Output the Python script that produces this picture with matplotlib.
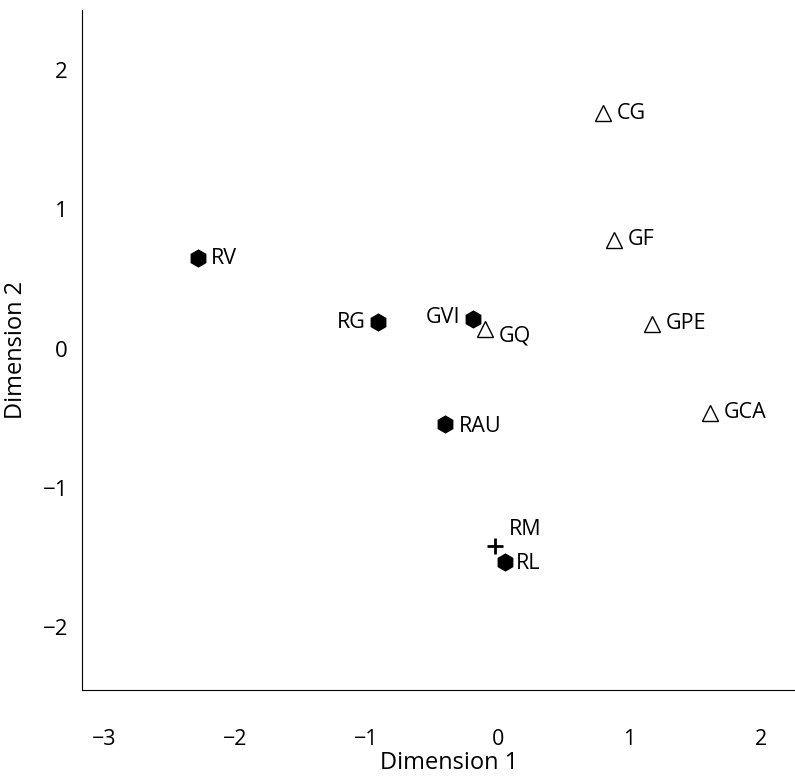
import matplotlib.pyplot as plt

plt.rcParams['font.family'] = ['Open Sans', 'DejaVu Sans']

# filled hexagons
r_names = ["RV", "RG", "GVI", "RAU", "RL"]
r_x = [-2.28, -0.91, -0.19, -0.40, 0.05]
r_y = [0.65, 0.19, 0.21, -0.54, -1.53]

# open triangles
g_names = ["CG", "GF", "GQ", "GPE", "GCA"]
g_x = [0.80, 0.88, -0.10, 1.17, 1.61]
g_y = [1.69, 0.78, 0.14, 0.18, -0.46]

# plus
p_names = ["RM"]
p_x = [-0.02]
p_y = [-1.42]

fig = plt.figure(figsize=(7.95, 7.77), dpi=100)
ax = fig.add_axes([0.103, 0.112, 0.897, 0.875])

ax.plot(r_x, r_y, linestyle="none", marker="h", markersize=12, color="black")
ax.plot(g_x, g_y, linestyle="none", marker="^", markersize=11,
        markerfacecolor="white", markeredgecolor="black", markeredgewidth=1.0)
ax.plot(p_x, p_y, linestyle="none", marker="+", markersize=12,
        color="black", markeredgewidth=2)

# label offsets in points
offs = {"RV": (9, 0, "left"), "RG": (-9, 0, "right"), "GVI": (-9, 1, "right"),
        "RAU": (10, -2, "left"), "RL": (8, -1, "left"), "CG": (10, 0, "left"),
        "GF": (10, 0, "left"), "GQ": (10, -5, "left"), "GPE": (10, 0, "left"),
        "GCA": (10, 0, "left"), "RM": (10, 12, "left")}
for names, xs, ys in [(r_names, r_x, r_y), (g_names, g_x, g_y), (p_names, p_x, p_y)]:
    for n, x, y in zip(names, xs, ys):
        dx, dy, ha = offs[n]
        ax.annotate(n, (x, y), xytext=(dx, dy), textcoords="offset points",
                    ha=ha, va="center", fontsize=15.5)

ax.set_xlim(-3.166, 2.26)
ax.set_ylim(-2.45, 2.43)
ax.set_xticks([-3, -2, -1, 0, 1, 2])
ax.set_yticks([-2, -1, 0, 1, 2])
ax.tick_params(axis="x", length=0, pad=28, labelsize=15.5)
ax.tick_params(axis="y", length=0, pad=10, labelsize=16)
ax.spines["top"].set_visible(False)
ax.spines["right"].set_visible(False)

ax.set_xlabel("Dimension 1", fontsize=17)
ax.xaxis.label.set_va("center")
ax.xaxis.set_label_coords(0.515, -0.108)
ax.set_ylabel("Dimension 2", fontsize=17)
ax.yaxis.label.set_va("center")
ax.yaxis.set_label_coords(-0.092, 0.5)

fig.savefig("out.png", dpi=100)
